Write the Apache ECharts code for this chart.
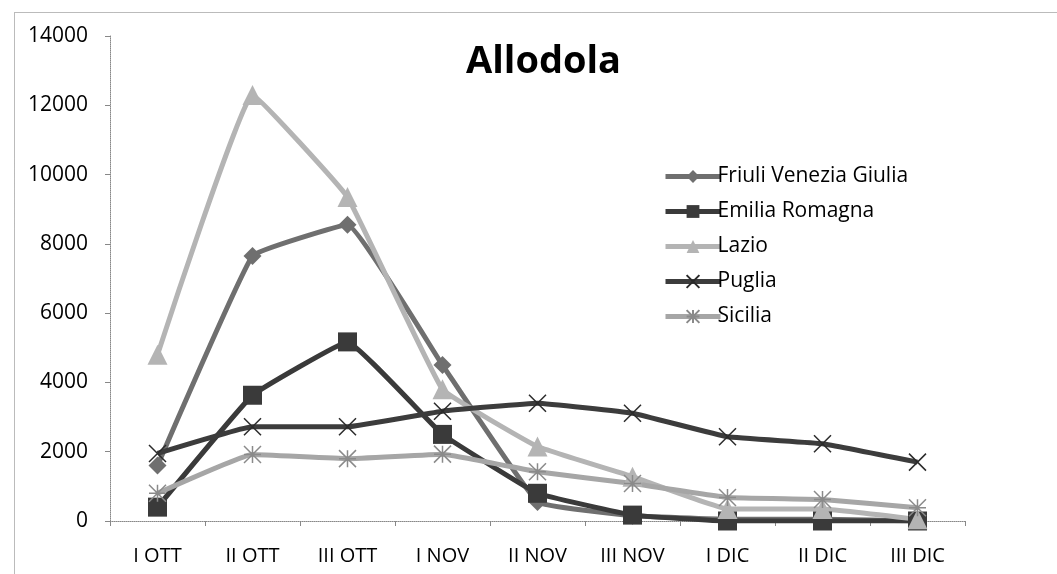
<!DOCTYPE html>
<html>
<head>
<meta charset="utf-8">
<script src="https://cdn.jsdelivr.net/npm/echarts@6/dist/echarts.min.js"></script>
<style>html,body{margin:0;padding:0;background:#fff;}#chart{width:1057px;height:574px;}</style>
</head>
<body>
<div id="chart"></div>
<script>
var categories = ['I OTT', 'II OTT', 'III OTT', 'I NOV', 'II NOV', 'III NOV', 'I DIC', 'II DIC', 'III DIC'];
var friuli = [1600, 7650, 8550, 4500, 550, 150, 50, 50, 0];
var emilia = [400, 3630, 5170, 2500, 800, 170, 0, 0, 0];
var lazio = [4800, 12300, 9350, 3800, 2150, 1280, 350, 350, 50];
var puglia = [1950, 2720, 2720, 3170, 3400, 3110, 2430, 2230, 1700];
var sicilia = [800, 1920, 1800, 1930, 1420, 1080, 680, 620, 380];
var yTicks = [0, 2000, 4000, 6000, 8000, 10000, 12000, 14000];

var xSym = 'path://M0,0L10,10M10,0L0,10';
var starSym = 'path://M5,0L5,10M0,5L10,5M0,0L10,10M10,0L0,10';

function mk(name, data, color, symbol, size, stroke) {
  return {
    name: name, type: 'line', data: data, smooth: 0.08,
    symbol: symbol, symbolSize: size,
    lineStyle: { color: color, width: 5 },
    itemStyle: stroke ? { color: color, borderColor: stroke, borderWidth: 1.5 } : { color: color },
    z: 2
  };
}

var chart = echarts.init(document.getElementById('chart'));
chart.setOption({
  animation: false,
  backgroundColor: '#fff',
  graphic: [{
    type: 'rect', left: 12, top: 10,
    shape: { width: 1100, height: 600 },
    style: { fill: 'none', stroke: '#777', lineWidth: 1, lineDash: [1, 1] },
    silent: true
  }],
  title: {
    text: 'Allodola', left: 461, top: 38,
    textStyle: { fontFamily: 'Open Sans', fontWeight: 'bold', fontSize: 38, color: '#000' }
  },
  legend: {
    orient: 'vertical', left: 658, top: 157, itemGap: 6,
    itemWidth: 55, itemHeight: 16,
    lineStyle: { width: 5 },
    textStyle: { fontFamily: 'Open Sans', fontSize: 21, color: '#000', padding: [0, 0, 0, -8], lineHeight: 29 },
    data: ['Friuli Venezia Giulia', 'Emilia Romagna', 'Lazio', 'Puglia', 'Sicilia']
  },
  grid: { left: 110, right: 92, top: 36, bottom: 53, containLabel: false },
  xAxis: {
    type: 'category', data: categories, boundaryGap: true,
    axisLine: { lineStyle: { color: '#888', type: 'dotted', width: 1 } },
    axisTick: { show: true, alignWithLabel: false, length: 5, lineStyle: { color: '#888' } },
    axisLabel: { fontFamily: 'Open Sans', fontSize: 20, color: '#000', margin: 25 }
  },
  yAxis: {
    type: 'value', min: 0, max: 14000, interval: 2000,
    axisLine: { show: true, lineStyle: { color: '#888', type: 'dotted', width: 1 } },
    axisTick: { show: true, length: 5, lineStyle: { color: '#888' } },
    splitLine: { show: false },
    axisLabel: { fontFamily: 'Open Sans', fontSize: 21, color: '#000', margin: 22,
      formatter: function (v) { return yTicks.indexOf(v) >= 0 ? String(v) : ''; } }
  },
  series: [
    mk('Friuli Venezia Giulia', friuli, '#6f6f6f', 'diamond', 18),
    mk('Emilia Romagna', emilia, '#3a3a3a', 'rect', 19),
    mk('Lazio', lazio, '#b4b4b4', 'triangle', 20),
    mk('Puglia', puglia, '#3c3c3c', xSym, 17, '#2a2a2a'),
    mk('Sicilia', sicilia, '#a6a6a6', starSym, 17, '#8a8a8a')
  ]
});
</script>
</body>
</html>
